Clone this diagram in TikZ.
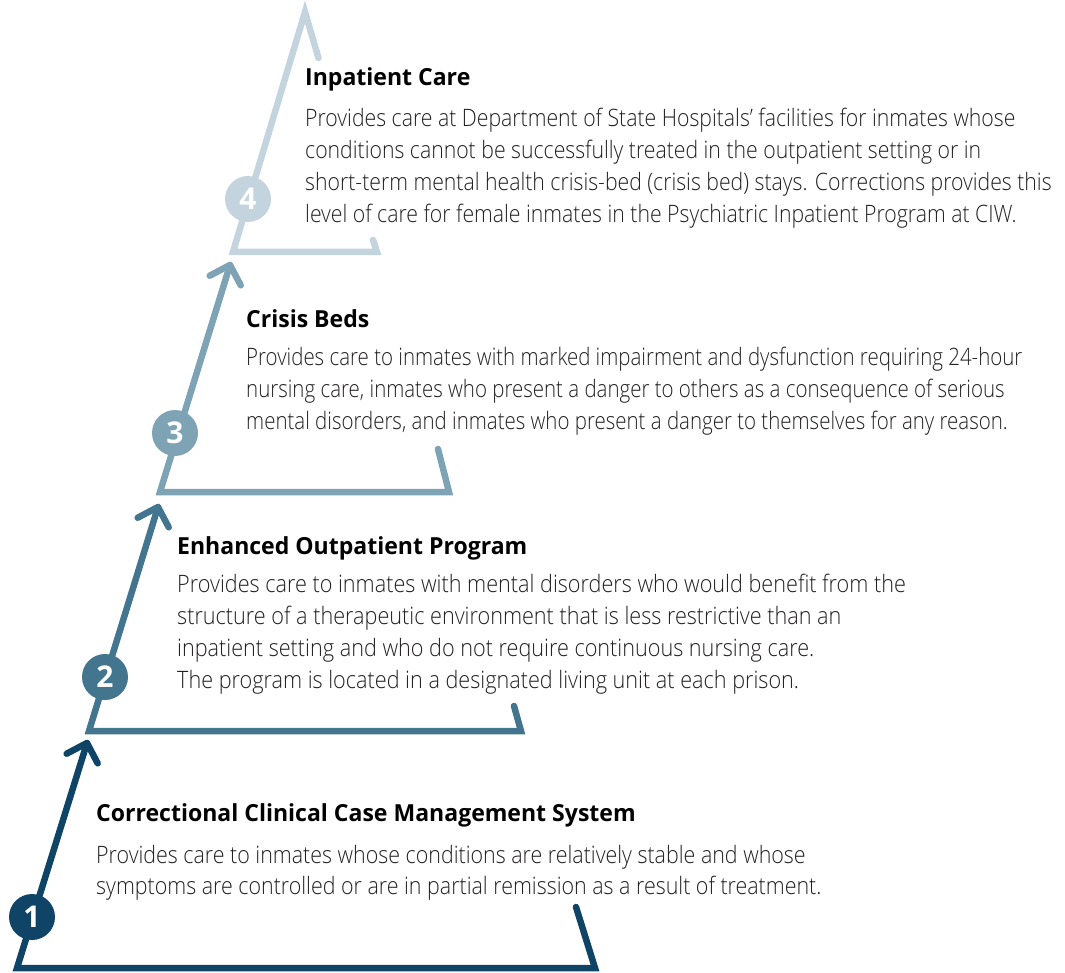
\documentclass[tikz,border=0pt]{standalone}
\usepackage{fontspec}
\usepackage{graphicx}
\usetikzlibrary{calc}
\IfFontExistsTF{Open Sans Light}{%
  \newfontfamily\bodyfont[FakeStretch=0.88]{Open Sans Light}}{%
  \newfontfamily\bodyfont[FakeStretch=0.88]{Open Sans}}
\newfontfamily\titlefont[FakeStretch=0.98]{Open Sans Bold}
\newfontfamily\numfont{Open Sans Bold}
\definecolor{cOne}{HTML}{0F4467}
\definecolor{cTwo}{HTML}{44758F}
\definecolor{cThree}{HTML}{7EA3B5}
\definecolor{cFour}{HTML}{C3D4DF}
\definecolor{txt}{HTML}{231F20}
\tikzset{
  stepline/.style={line width=6.5pt, line cap=round, line join=miter, draw=#1},
  barb/.style={line width=6.5pt, line cap=round, line join=round, draw=#1},
  numcirc/.style={circle, fill=#1, minimum size=46pt, inner sep=0pt, text=white,
    font=\numfont\fontsize{30}{30}\selectfont},
  ttl/.style={anchor=base west, inner sep=0pt, text=black,
    font=\titlefont\fontsize{23.5}{26}\selectfont},
  bdy/.style={anchor=base west, inner sep=0pt, text=txt,
    font=\bodyfont\fontsize{24}{32}\selectfont},
}
\newcommand{\txtline}[1]{\hbox{#1}}
\begin{document}
\begin{tikzpicture}[x=1pt,y=-1pt]
\useasboundingbox (0,0) rectangle (1065,973);
% ---- corner coordinates
\coordinate (b1) at (17,968);   \coordinate (r1) at (595,968);  \coordinate (t1) at (576,907);
\coordinate (a1) at (87,743);
\coordinate (b2) at (89,731);   \coordinate (r2) at (521,731);  \coordinate (t2) at (514,706);
\coordinate (a2) at (158,507);
\coordinate (b3) at (160,492);  \coordinate (r3) at (449,492);  \coordinate (t3) at (438,449);
\coordinate (a3) at (230,265);
\coordinate (b4) at (233,252);  \coordinate (r4) at (377,252);  \coordinate (t4) at (373,240);
\coordinate (a4) at (305,12);
% ---- step 1
\draw[stepline=cOne] (a1) -- (b1) -- (r1) -- (t1);
\draw[barb=cOne] ($(a1)!23pt!-45:(b1)$) -- (a1) -- ($(a1)!23pt!45:(b1)$);
% ---- step 2
\draw[stepline=cTwo] (a2) -- (b2) -- (r2) -- (t2);
\draw[barb=cTwo] ($(a2)!23pt!-45:(b2)$) -- (a2) -- ($(a2)!23pt!45:(b2)$);
% ---- step 3
\draw[stepline=cThree] (a3) -- (b3) -- (r3) -- (t3);
\draw[barb=cThree] ($(a3)!23pt!-45:(b3)$) -- (a3) -- ($(a3)!23pt!45:(b3)$);
% ---- step 4
\draw[stepline=cFour] ($(a4)!48pt!33:(b4)$) -- (a4) -- (b4) -- (r4) -- (t4);
% ---- number circles
\node[numcirc=cOne]   (n1) at (32,917) {1};
\node[numcirc=cTwo]   (n2) at (105,677) {2};
\node[numcirc=cThree] (n3) at (175,433) {3};
\node[numcirc=cFour]  (n4) at (248,199) {4};
% ---- texts
\node[ttl] (h4) at (305,86) {Inpatient Care};
\node[bdy] (d4) at (305,127) {\scalebox{1.005}[1]{\vtop{\baselineskip=32pt
  \txtline{Provides care at Department of State Hospitals’ facilities for inmates whose}
  \txtline{conditions cannot be successfully treated in the outpatient setting or in}
  \txtline{short-term mental health crisis-bed (crisis bed) stays. Corrections provides this}
  \txtline{level of care for female inmates in the Psychiatric Inpatient Program at CIW.}}}};
\node[ttl] (h3) at (246,328) {Crisis Beds};
\node[bdy] (d3) at (246,366) {\scalebox{0.969}[1]{\vtop{\baselineskip=32pt
  \txtline{Provides care to inmates with marked impairment and dysfunction requiring 24-hour}
  \txtline{nursing care, inmates who present a danger to others as a consequence of serious}
  \txtline{mental disorders, and inmates who present a danger to themselves for any reason.}}}};
\node[ttl] (h2) at (177,554) {Enhanced Outpatient Program};
\node[bdy] (d2) at (177,592) {\scalebox{1.024}[1]{\vtop{\baselineskip=32pt
  \txtline{Provides care to inmates with mental disorders who would benefit from the}
  \txtline{structure of a therapeutic environment that is less restrictive than an}
  \txtline{inpatient setting and who do not require continuous nursing care.}
  \txtline{The program is located in a designated living unit at each prison.}}}};
\node[ttl] (h1) at (96,821) {Correctional Clinical Case Management System};
\node[bdy] (d1) at (96,863) {\scalebox{1.014}[1]{\vtop{\baselineskip=31pt
  \txtline{Provides care to inmates whose conditions are relatively stable and whose}
  \txtline{symptoms are controlled or are in partial remission as a result of treatment.}}}};
\end{tikzpicture}
\end{document}
